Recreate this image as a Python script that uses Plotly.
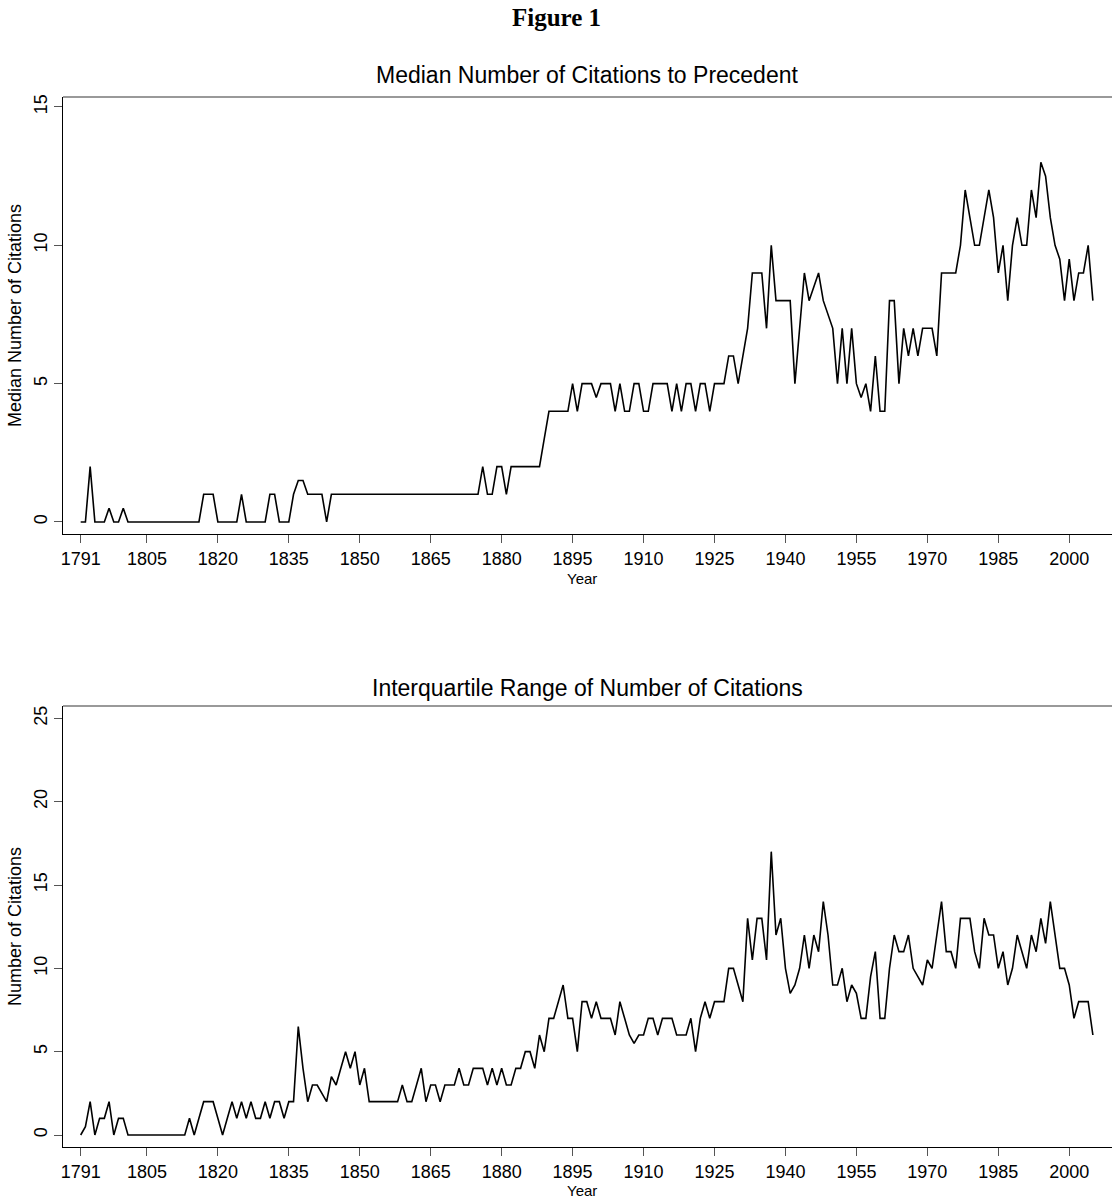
import plotly.graph_objects as go

# Years covered by both panels
years = list(range(1791, 2006))

# Median number of citations to precedent, by year
median_citations = [
    0, 0, 2, 0, 0, 0, 0.5, 0, 0, 0.5,            # 1791-1800
    0, 0, 0, 0, 0, 0, 0, 0, 0, 0,                # 1801-1810
    0, 0, 0, 0, 0, 0, 1, 1, 1, 0,                # 1811-1820
    0, 0, 0, 0, 1, 0, 0, 0, 0, 0,                # 1821-1830
    1, 1, 0, 0, 0, 1, 1.5, 1.5, 1, 1,            # 1831-1840
    1, 1, 0, 1, 1, 1, 1, 1, 1, 1,                # 1841-1850
    1, 1, 1, 1, 1, 1, 1, 1, 1, 1,                # 1851-1860
    1, 1, 1, 1, 1, 1, 1, 1, 1, 1,                # 1861-1870
    1, 1, 1, 1, 1, 2, 1, 1, 2, 2,                # 1871-1880
    1, 2, 2, 2, 2, 2, 2, 2, 3, 4,                # 1881-1890
    4, 4, 4, 4, 5, 4, 5, 5, 5, 4.5,              # 1891-1900
    5, 5, 5, 4, 5, 4, 4, 5, 5, 4,                # 1901-1910
    4, 5, 5, 5, 5, 4, 5, 4, 5, 5,                # 1911-1920
    4, 5, 5, 4, 5, 5, 5, 6, 6, 5,                # 1921-1930
    6, 7, 9, 9, 9, 7, 10, 8, 8, 8,               # 1931-1940
    8, 5, 7, 9, 8, 8.5, 9, 8, 7.5, 7,            # 1941-1950
    5, 7, 5, 7, 5, 4.5, 5, 4, 6, 4,              # 1951-1960
    4, 8, 8, 5, 7, 6, 7, 6, 7, 7,                # 1961-1970
    7, 6, 9, 9, 9, 9, 10, 12, 11, 10,            # 1971-1980
    10, 11, 12, 11, 9, 10, 8, 10, 11, 10,        # 1981-1990
    10, 12, 11, 13, 12.5, 11, 10, 9.5, 8, 9.5,   # 1991-2000
    8, 9, 9, 10, 8,                              # 2001-2005
]

# Interquartile range of the number of citations, by year
iqr_citations = [
    0, 0.5, 2, 0, 1, 1, 2, 0, 1, 1,              # 1791-1800
    0, 0, 0, 0, 0, 0, 0, 0, 0, 0,                # 1801-1810
    0, 0, 0, 1, 0, 1, 2, 2, 2, 1,                # 1811-1820
    0, 1, 2, 1, 2, 1, 2, 1, 1, 2,                # 1821-1830
    1, 2, 2, 1, 2, 2, 6.5, 4, 2, 3,              # 1831-1840
    3, 2.5, 2, 3.5, 3, 4, 5, 4, 5, 3,            # 1841-1850
    4, 2, 2, 2, 2, 2, 2, 2, 3, 2,                # 1851-1860
    2, 3, 4, 2, 3, 3, 2, 3, 3, 3,                # 1861-1870
    4, 3, 3, 4, 4, 4, 3, 4, 3, 4,                # 1871-1880
    3, 3, 4, 4, 5, 5, 4, 6, 5, 7,                # 1881-1890
    7, 8, 9, 7, 7, 5, 8, 8, 7, 8,                # 1891-1900
    7, 7, 7, 6, 8, 7, 6, 5.5, 6, 6,              # 1901-1910
    7, 7, 6, 7, 7, 7, 6, 6, 6, 7,                # 1911-1920
    5, 7, 8, 7, 8, 8, 8, 10, 10, 9,              # 1921-1930
    8, 13, 10.5, 13, 13, 10.5, 17, 12, 13, 10,   # 1931-1940
    8.5, 9, 10, 12, 10, 12, 11, 14, 12, 9,       # 1941-1950
    9, 10, 8, 9, 8.5, 7, 7, 9.5, 11, 7,          # 1951-1960
    7, 10, 12, 11, 11, 12, 10, 9.5, 9, 10.5,     # 1961-1970
    10, 12, 14, 11, 11, 10, 13, 13, 13, 11,      # 1971-1980
    10, 13, 12, 12, 10, 11, 9, 10, 12, 11,       # 1981-1990
    10, 12, 11, 13, 11.5, 14, 12, 10, 10, 9,     # 1991-2000
    7, 8, 8, 8, 6,                               # 2001-2005
]

x_ticks = [1791, 1805, 1820, 1835, 1850, 1865, 1880, 1895, 1910, 1925,
           1940, 1955, 1970, 1985, 2000]
median_ticks = [0, 5, 10, 15]
iqr_ticks = [0, 5, 10, 15, 20, 25]

SANS = "Liberation Sans, Arial, sans-serif"
SERIF = "Liberation Serif, Times New Roman, serif"

# Page geometry (pixels) used to place the free-standing texts
FIG_H = 1202
M_TOP, M_BOT = 97, 55
PLOT_H = FIG_H - M_TOP - M_BOT


def paper_y(px):
    """Convert a pixel row into a paper-y coordinate."""
    return (FIG_H - M_BOT - px) / PLOT_H


def paper_x(px):
    """Convert a pixel column into a paper-x coordinate."""
    return (px - 63) / (1112 - 63)


fig = go.Figure()
fig.add_trace(go.Scatter(x=years, y=median_citations, mode="lines",
                         line=dict(color="black", width=1.6),
                         xaxis="x", yaxis="y", showlegend=False))
fig.add_trace(go.Scatter(x=years, y=iqr_citations, mode="lines",
                         line=dict(color="black", width=1.6),
                         xaxis="x2", yaxis="y2", showlegend=False))

x_common = dict(
    range=[1787.26, 2009.04], tickmode="array", tickvals=x_ticks,
    ticks="outside", ticklen=8, tickwidth=1.2, tickcolor="#555",
    showline=True, linecolor="black", linewidth=1.4,
    showgrid=False, zeroline=False,
    tickfont=dict(family=SANS, size=18, color="black"),
)
y_common = dict(
    tickmode="array", ticks="outside", ticklen=8, tickwidth=1.2,
    tickcolor="#555", tickangle=-90,
    showline=True, linecolor="black", linewidth=1.4,
    showgrid=False, zeroline=False,
    tickfont=dict(family=SANS, size=18, color="black"),
)

fig.update_layout(
    width=1112, height=FIG_H,
    paper_bgcolor="white", plot_bgcolor="white",
    margin=dict(l=63, r=0, t=M_TOP, b=M_BOT),
    xaxis=dict(domain=[0, 1], anchor="y", **x_common),
    yaxis=dict(domain=[paper_y(534), 1], anchor="x", range=[-0.434, 15.36],
               tickvals=median_ticks,
               title=dict(text="Median Number of Citations",
                          font=dict(family=SANS, size=18, color="black"),
                          standoff=4),
               **y_common),
    xaxis2=dict(domain=[0, 1], anchor="y2", **x_common),
    yaxis2=dict(domain=[0, paper_y(706)], anchor="x2", range=[-0.72, 25.74],
                tickvals=iqr_ticks,
                title=dict(text="Number of Citations",
                           font=dict(family=SANS, size=18, color="black"),
                           standoff=4),
                **y_common),
)

# Upper frame edge of each panel
for ax in ("y", "y2"):
    xr = "x domain" if ax == "y" else "x2 domain"
    fig.add_shape(type="line", xref=xr, yref=f"{ax} domain",
                  x0=0, x1=1, y0=1, y1=1,
                  line=dict(color="#777", width=1.4))

# Figure heading, panel titles and x-axis titles
fig.add_annotation(text="<b>Figure 1</b>", xref="paper", yref="paper",
                   x=paper_x(556), y=paper_y(17), xanchor="center",
                   yanchor="middle", showarrow=False,
                   font=dict(family=SERIF, size=25, color="black"))
fig.add_annotation(text="Median Number of Citations to Precedent",
                   xref="paper", yref="paper", x=paper_x(587),
                   y=paper_y(75), xanchor="center", yanchor="middle",
                   showarrow=False,
                   font=dict(family=SANS, size=23, color="black"))
fig.add_annotation(text="Interquartile Range of Number of Citations",
                   xref="paper", yref="paper", x=paper_x(587),
                   y=paper_y(688), xanchor="center", yanchor="middle",
                   showarrow=False,
                   font=dict(family=SANS, size=23, color="black"))
for py in (578, 1190):
    fig.add_annotation(text="Year", xref="paper", yref="paper",
                       x=paper_x(582), y=paper_y(py), xanchor="center",
                       yanchor="middle", showarrow=False,
                       font=dict(family=SANS, size=15, color="black"))

fig.write_html("out.html")
